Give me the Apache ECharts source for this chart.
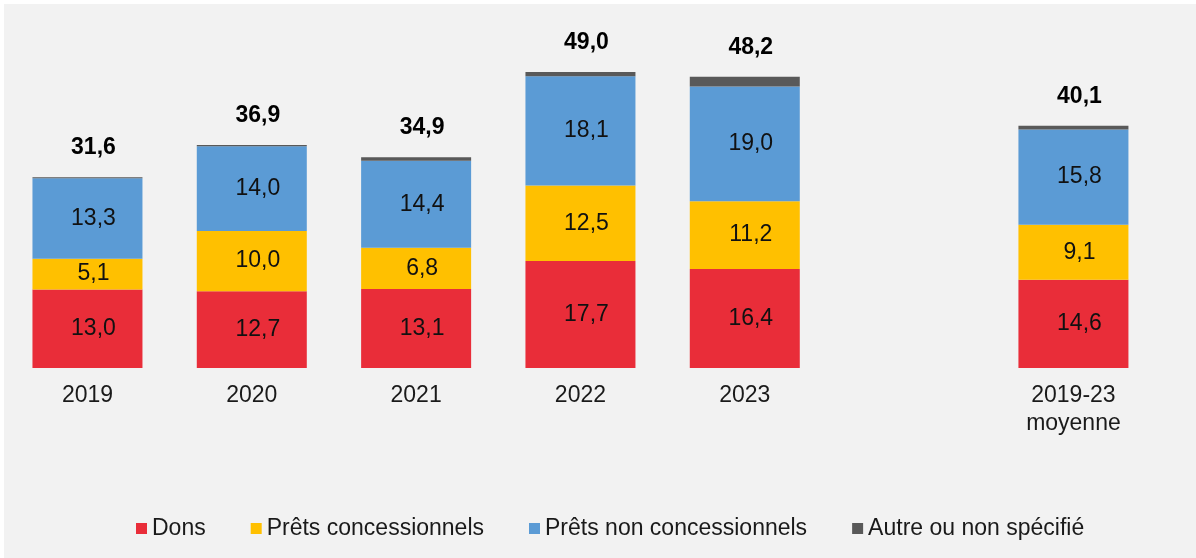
<!DOCTYPE html>
<html>
<head>
<meta charset="utf-8">
<script src="https://cdn.jsdelivr.net/npm/echarts@6/dist/echarts.min.js"></script>
<style>
  html, body { margin: 0; padding: 0; background: #ffffff; width: 1196px; height: 558px; overflow: hidden; }
  #c { position: absolute; left: 4px; top: 4px; width: 1192px; height: 554px; }
</style>
</head>
<body>
<div id="c"></div>
<script>
const categories = ['2019', '2020', '2021', '2022', '2023', '', '2019-23\nmoyenne'];
const dons = [13.0, 12.7, 13.1, 17.7, 16.4, null, 14.6];
const pretsConcessionnels = [5.1, 10.0, 6.8, 12.5, 11.2, null, 9.1];
const pretsNonConcessionnels = [13.3, 14.0, 14.4, 18.1, 19.0, null, 15.8];
const autre = [0.2, 0.2, 0.6, 0.7, 1.6, null, 0.6];
const totals = [31.6, 36.9, 34.9, 49.0, 48.2, null, 40.1];

const FONT = '"Liberation Sans", Arial, sans-serif';
const fmt = v => (v == null ? '' : v.toFixed(1).replace('.', ','));

const innerLabel = {
  show: true,
  position: 'inside',
  offset: [6, 0],
  fontFamily: FONT,
  fontSize: 23,
  color: '#111111',
  formatter: p => fmt(p.value)
};

function barSeries(name, data, color, label) {
  return {
    name: name,
    type: 'bar',
    stack: 'total',
    barWidth: 110,
    data: data,
    itemStyle: { color: color },
    label: label,
    emphasis: { disabled: true }
  };
}

const chart = echarts.init(document.getElementById('c'), null, { renderer: 'canvas' });
chart.setOption({
  backgroundColor: '#f2f2f2',
  animation: false,
  textStyle: { fontFamily: FONT },
  grid: { left: 1.3, right: 40.4, top: 62, bottom: 190, containLabel: false },
  xAxis: {
    type: 'category',
    data: categories,
    axisLine: { show: false },
    axisTick: { show: false },
    axisLabel: {
      interval: 0,
      margin: 14,
      fontFamily: FONT,
      fontSize: 23,
      color: '#1a1a1a',
      lineHeight: 28
    }
  },
  yAxis: {
    type: 'value',
    min: 0,
    max: 50,
    show: false,
    splitLine: { show: false }
  },
  legend: {
    left: 127,
    top: 508,
    itemWidth: 11,
    itemHeight: 11,
    itemGap: 45,
    icon: 'rect',
    textStyle: { fontFamily: FONT, fontSize: 23, color: '#1a1a1a' },
    data: ['Dons', 'Prêts concessionnels', 'Prêts non concessionnels', 'Autre ou non spécifié']
  },
  series: [
    barSeries('Dons', dons, '#E92D39', innerLabel),
    barSeries('Prêts concessionnels', pretsConcessionnels, '#FFC000', innerLabel),
    barSeries('Prêts non concessionnels', pretsNonConcessionnels, '#5B9BD5', innerLabel),
    barSeries('Autre ou non spécifié', autre, '#595959', {
      show: true,
      position: 'top',
      distance: 18,
      offset: [6, 0],
      fontFamily: FONT,
      fontSize: 23,
      fontWeight: 'bold',
      color: '#000000',
      formatter: p => fmt(totals[p.dataIndex])
    })
  ]
});
</script>
</body>
</html>
